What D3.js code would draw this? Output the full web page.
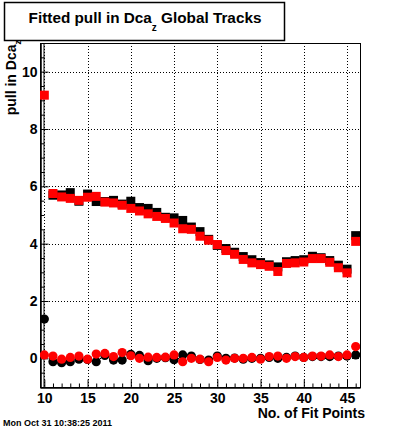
<!DOCTYPE html>
<html><head><meta charset="utf-8">
<script src="https://cdn.jsdelivr.net/npm/d3@7"></script>
<style>
html,body{margin:0;padding:0;background:#fff;}
text{font-family:"Liberation Sans",Arial,Helvetica,sans-serif;font-weight:bold;}
</style></head>
<body>
<script>
const nFit = [10,11,12,13,14,15,16,17,18,19,20,21,22,23,24,25,26,27,28,29,30,31,32,33,34,35,36,37,38,39,40,41,42,43,44,45,46];
const blackSq = [12.5,5.69,5.70,5.78,5.48,5.73,5.47,5.47,5.51,5.38,5.48,5.26,5.23,5.09,4.92,4.90,4.81,4.58,4.42,4.15,3.94,3.83,3.70,3.55,3.44,3.34,3.26,3.19,3.37,3.41,3.44,3.56,3.51,3.41,3.25,3.11,4.28];
const redSq = [9.18,5.75,5.63,5.58,5.51,5.62,5.65,5.45,5.42,5.34,5.23,5.14,5.04,4.95,4.88,4.72,4.52,4.50,4.26,4.12,3.97,3.76,3.63,3.45,3.33,3.27,3.21,3.03,3.31,3.33,3.36,3.48,3.48,3.35,3.16,2.98,4.08];
const blackCirc = [1.37,-0.12,-0.15,-0.12,-0.03,-0.04,-0.12,0.10,-0.06,-0.06,0.14,0.10,-0.08,0.00,0.02,-0.05,0.12,0.08,-0.04,-0.06,0.08,0.00,0.01,-0.03,0.00,0.00,0.03,0.00,0.03,0.08,0.03,0.06,0.06,0.06,0.08,0.08,0.12];
const redCirc = [0.12,0.08,-0.03,0.03,0.08,-0.03,0.15,0.17,0.06,0.20,0.09,0.00,0.04,0.03,0.04,0.12,-0.12,0.00,-0.03,-0.12,0.03,-0.06,0.00,0.00,0.03,-0.03,0.06,0.08,0.00,0.06,0.03,0.08,0.08,0.12,0.06,0.12,0.41];
// error bars [nFit, value, error]
const blackSqErr = [[10, 12.5, 6.5]];
const blackCircErr = [[10, 1.37, 3.1]];
const xMajorTicks = [10,15,20,25,30,35,40,45];
const yMajorTicks = [0,2,4,6,8,10];

const W = 400, H = 433;
const svg = d3.select("body").append("svg").attr("width", W).attr("height", H);
const L = 40, R = 360, T = 43, B = 387;
const x = d3.scaleLinear().domain([9.5, 46.5]).range([L, R]);
const y = d3.scaleLinear().domain([-1, 11]).range([B, T]);

svg.append("defs").append("clipPath").attr("id","clip")
  .append("rect").attr("x",L).attr("y",T).attr("width",R-L).attr("height",B-T);

// grid
const grid = svg.append("g").attr("stroke","#000").attr("stroke-width",1).attr("stroke-dasharray","1,2");
grid.selectAll("line.gx").data(xMajorTicks).enter().append("line")
  .attr("x1", d=>Math.round(x(d))+0.5).attr("x2", d=>Math.round(x(d))+0.5).attr("y1",T).attr("y2",B);
grid.selectAll("line.gy").data(yMajorTicks).enter().append("line")
  .attr("y1", d=>Math.round(y(d))+0.5).attr("y2", d=>Math.round(y(d))+0.5).attr("x1",L).attr("x2",R);

// frame
svg.append("rect").attr("x",L+0.5).attr("y",T+0.5).attr("width",R-L).attr("height",B-T)
  .attr("fill","none").attr("stroke","#000").attr("stroke-width",1);

// axes
svg.append("g").attr("transform",`translate(0,${B+0.5})`)
  .call(d3.axisBottom(x).tickValues(xMajorTicks).tickSize(-8).tickPadding(6).tickFormat(d3.format("d")));
svg.append("g").attr("transform",`translate(0,${B+0.5})`)
  .call(d3.axisBottom(x).tickValues(d3.range(10,47,1).filter(v=>v%5!==0)).tickSize(-4).tickFormat(""));
svg.append("g").attr("transform",`translate(${L+0.5},0)`)
  .call(d3.axisLeft(y).tickValues(yMajorTicks).tickSize(-8).tickPadding(3).tickFormat(d3.format("d")));
svg.append("g").attr("transform",`translate(${L+0.5},0)`)
  .call(d3.axisLeft(y).tickValues(d3.range(-1,11.01,0.5).filter(v=>v%2!==0)).tickSize(-4).tickFormat(""));
svg.selectAll(".domain").attr("stroke","#000");
svg.selectAll(".tick line").attr("stroke","#000");
svg.selectAll(".tick text").attr("fill","#000").style("font-size","14px").style("font-family",'"Liberation Sans",Arial,sans-serif').style("font-weight","bold");

// data marks
const plot = svg.append("g").attr("clip-path","url(#clip)");
function errBars(data, color){
  plot.selectAll(null).data(data).enter().append("line")
    .attr("x1", d=>Math.round(x(d[0]))).attr("x2", d=>Math.round(x(d[0])))
    .attr("y1", d=>y(d[1]-d[2])).attr("y2", d=>y(d[1]+d[2]))
    .attr("stroke", color).attr("stroke-width",1);
}
function squares(vals, color){
  const s = 9;
  plot.selectAll(null).data(nFit.map((n,i)=>[n,vals[i]])).enter().append("rect")
    .attr("x", d=>x(d[0])-s/2).attr("y", d=>y(d[1])-s/2).attr("width",s).attr("height",s)
    .attr("fill", color);
}
function circles(vals, color){
  plot.selectAll(null).data(nFit.map((n,i)=>[n,vals[i]])).enter().append("circle")
    .attr("cx", d=>x(d[0])).attr("cy", d=>y(d[1])).attr("r",4.6)
    .attr("fill", color);
}
errBars(blackSqErr, "#000");
errBars(blackCircErr, "#000");
circles(blackCirc, "#000");
squares(blackSq, "#000");
circles(redCirc, "#ff0000");
squares(redSq, "#ff0000");

// title box
svg.append("rect").attr("x",4.5).attr("y",2.5).attr("width",280).attr("height",38)
  .attr("fill","#fff").attr("stroke","#000").attr("stroke-width",1.5);
const title = svg.append("text").attr("x",145).attr("y",23).attr("text-anchor","middle").style("font-size","15.3px");
title.append("tspan").text("Fitted pull in Dca");
title.append("tspan").attr("dy",8).style("font-size","10px").text("z");
title.append("tspan").attr("dy",-8).text(" Global Tracks");

// axis titles
svg.append("text").attr("x",365).attr("y",418).attr("text-anchor","end").style("font-size","14px").text("No. of Fit Points");
const yt = svg.append("text").attr("transform","translate(15.5,40) rotate(-90)").attr("text-anchor","end").style("font-size","14px");
yt.append("tspan").text("pull in Dca");
yt.append("tspan").attr("dy",5).style("font-size","9px").text("z");

svg.append("text").attr("x",3).attr("y",426).style("font-size","9px").text("Mon Oct 31 10:38:25 2011");
</script>
</body></html>
